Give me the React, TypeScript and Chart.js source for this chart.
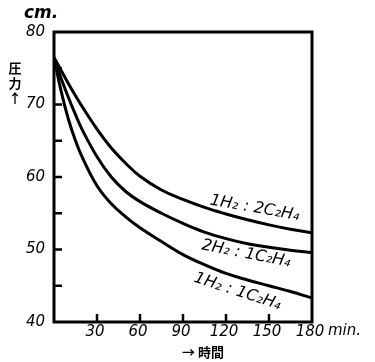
import React, { useEffect, useRef } from "react";
import { Chart, registerables } from "chart.js";

Chart.register(...registerables);

const minutes = [0, 5, 10, 15, 20, 30, 40, 50, 60, 75, 90, 105, 120, 135, 150, 165, 180];
const ratio1to2 = [76.5, 74.7, 72.9, 71.2, 69.6, 66.6, 64.0, 61.9, 60.1, 58.2, 56.9, 55.8, 54.9, 54.1, 53.4, 52.8, 52.3];
const ratio2to1 = [76.5, 73.6, 71.0, 68.6, 66.4, 62.8, 60.0, 58.0, 56.6, 55.0, 53.6, 52.4, 51.5, 50.8, 50.3, 49.9, 49.6];
const ratio1to1 = [76.5, 71.8, 68.0, 65.0, 62.6, 58.8, 56.3, 54.5, 53.0, 51.1, 49.3, 47.9, 46.7, 45.8, 45.0, 44.2, 43.3];

const seriesNames = ["1H₂ : 2C₂H₄", "2H₂ : 1C₂H₄", "1H₂ : 1C₂H₄"];
const labelMinutes = [140, 134, 128];
const labelValues = [55.7, 49.4, 44.2];
const labelAngles = [10, 11, 18];

const xTicks = [30, 60, 90, 120, 150, 180];
const yTicks = [40, 45, 50, 55, 60, 65, 70, 75, 80];
const yUnit = "cm.";
const xUnit = "min.";
const xTitle = "→ 時間";
const yTitle = ["圧", "力", "↑"];

const FONT = '"DejaVu Sans", sans-serif';

const decorPlugin = {
  id: "decor",
  afterDraw(chart: any) {
    const ctx = chart.ctx;
    const { left, right, top, bottom } = chart.chartArea;
    const xs = chart.scales.x;
    const ys = chart.scales.y;
    ctx.save();
    ctx.strokeStyle = "#000";
    ctx.lineWidth = 3;
    ctx.strokeRect(left, top, right - left, bottom - top);
    ctx.lineWidth = 2.5;
    yTicks.forEach((v) => {
      if (v === 40 || v === 80) return;
      const py = ys.getPixelForValue(v);
      ctx.beginPath();
      ctx.moveTo(left, py);
      ctx.lineTo(left + 8, py);
      ctx.stroke();
    });
    xTicks.forEach((v) => {
      if (v === 180) return;
      const px = xs.getPixelForValue(v);
      ctx.beginPath();
      ctx.moveTo(px, bottom);
      ctx.lineTo(px, bottom - 8);
      ctx.stroke();
    });
    ctx.fillStyle = "#000";
    ctx.font = `italic 15px ${FONT}`;
    ctx.textAlign = "right";
    ctx.textBaseline = "middle";
    yTicks.forEach((v) => {
      if (v % 10 !== 0) return;
      ctx.fillText(String(v), left - 9, ys.getPixelForValue(v));
    });
    ctx.textAlign = "center";
    xTicks.forEach((v) => {
      ctx.fillText(String(v), xs.getPixelForValue(v) - 2, bottom + 10);
    });
    ctx.textAlign = "left";
    ctx.fillText(xUnit, xs.getPixelForValue(180) + 16, bottom + 9);
    ctx.font = `bold italic 17px ${FONT}`;
    ctx.fillText(yUnit, left - 30, top - 18);
    ctx.font = `bold 13px "Noto Sans CJK JP", ${FONT}`;
    ctx.textAlign = "center";
    ctx.fillText(xTitle, xs.getPixelForValue(90) + 20, bottom + 30);
    yTitle.forEach((ch, i) => {
      ctx.fillText(ch, 15, ys.getPixelForValue(75) + i * 15);
    });
    ctx.font = `italic 16px ${FONT}`;
    seriesNames.forEach((name, i) => {
      const px = xs.getPixelForValue(labelMinutes[i]);
      const py = ys.getPixelForValue(labelValues[i]);
      ctx.save();
      ctx.translate(px, py);
      ctx.rotate((labelAngles[i] * Math.PI) / 180);
      ctx.textAlign = "center";
      ctx.textBaseline = "middle";
      ctx.fillText(name, 0, 0);
      ctx.restore();
    });
    ctx.restore();
  },
};

export default function App() {
  const ref = useRef<HTMLCanvasElement>(null);
  useEffect(() => {
    if (!ref.current) return;
    const mk = (vals: number[]) => minutes.map((m, i) => ({ x: m, y: vals[i] }));
    const ds = (label: string, vals: number[]) => ({
      label,
      data: mk(vals),
      borderColor: "#000",
      borderWidth: 3,
      pointRadius: 0,
      fill: false,
      tension: 0.4,
    });
    const chart = new Chart(ref.current, {
      type: "line",
      data: {
        datasets: [
          ds(seriesNames[0], ratio1to2),
          ds(seriesNames[1], ratio2to1),
          ds(seriesNames[2], ratio1to1),
        ],
      },
      options: {
        animation: false,
        responsive: false,
        devicePixelRatio: 1,
        layout: { padding: { left: 0, right: 63, top: 32, bottom: 0 } },
        plugins: { legend: { display: false }, tooltip: { enabled: false } },
        scales: {
          x: {
            type: "linear",
            min: 0,
            max: 180,
            grid: { display: false },
            border: { display: false },
            ticks: { display: false },
            afterFit: (s: any) => {
              s.height = 40;
            },
          },
          y: {
            min: 40,
            max: 80,
            grid: { display: false },
            border: { display: false },
            ticks: { display: false },
            afterFit: (s: any) => {
              s.width = 54;
            },
          },
        },
      },
      plugins: [decorPlugin],
    });
    return () => chart.destroy();
  }, []);
  return (
    <div style={{ position: "fixed", left: 0, top: 0, width: 375, height: 362, background: "#fff" }}>
      <canvas ref={ref} width={375} height={362} style={{ width: 375, height: 362 }} />
    </div>
  );
}
